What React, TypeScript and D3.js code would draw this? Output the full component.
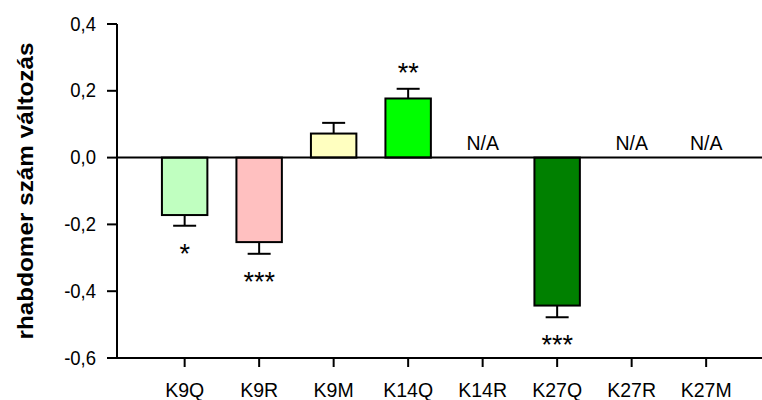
import React from "react";
import * as d3 from "d3";

// Mutant categories, mean change and standard error
const categories = ["K9Q", "K9R", "K9M", "K14Q", "K14R", "K27Q", "K27R", "K27M"];
const means: (number | null)[] = [-0.172, -0.253, 0.072, 0.177, null, -0.443, null, null];
const errors: (number | null)[] = [0.032, 0.035, 0.032, 0.029, null, 0.035, null, null];
const significance: string[] = ["*", "***", "", "**", "", "***", "", ""];
const fills: string[] = ["#C0FFC0", "#FFC0C0", "#FFFFC0", "#00FF00", "none", "#008000", "none", "none"];
const yTicks = [0.4, 0.2, 0.0, -0.2, -0.4, -0.6];
const yLabel = "rhabdomer szám változás";

const W = 762;
const H = 400;
const FONT = "'Liberation Sans', Arial, sans-serif";
const STRETCH = 1.08;

// Text with a slight vertical stretch, anchored at its baseline point
function Label(props: { x: number; y: number; size: number; anchor?: string; children: React.ReactNode }) {
  return (
    <text
      transform={`translate(${props.x},${props.y}) scale(1,${STRETCH})`}
      textAnchor={props.anchor ?? "middle"}
      fontSize={props.size}
      fill="#000"
    >
      {props.children}
    </text>
  );
}

export default function App() {
  const axisX = 117;
  const y = d3.scaleLinear().domain([-0.6, 0.4]).range([358, 24]);
  const x = d3
    .scaleBand<string>()
    .domain(categories)
    .range([147.4, 743.4])
    .paddingInner(0.39)
    .paddingOuter(0.195);
  const fmt = (v: number) => d3.format(".1f")(v).replace(".", ",").replace("−", "-");
  const capHalf = 11.5;
  const starSize = 27;

  return (
    <svg
      width={W}
      height={H}
      style={{ position: "absolute", left: 0, top: 0, background: "#fff" }}
      fontFamily={FONT}
    >
      <rect x={0} y={0} width={W} height={H} fill="#fff" />

      {/* bars with error bars */}
      {categories.map((c, i) => {
        const m = means[i];
        const e = errors[i];
        const cx = x(c)! + x.bandwidth() / 2;
        if (m === null || e === null) {
          return (
            <Label key={c} x={cx} y={y(0) - 8} size={19.5}>
              N/A
            </Label>
          );
        }
        const top = y(Math.max(0, m));
        const bottom = y(Math.min(0, m));
        const tip = m >= 0 ? m + e : m - e;
        const starCenter = m >= 0 ? y(tip) - 22 : y(tip) + 21.5;
        return (
          <g key={c}>
            <line x1={cx} x2={cx} y1={y(m)} y2={y(tip)} stroke="#000" strokeWidth={2} />
            <line x1={cx - capHalf} x2={cx + capHalf} y1={y(tip)} y2={y(tip)} stroke="#000" strokeWidth={2} />
            <rect
              x={x(c)!}
              y={top}
              width={x.bandwidth()}
              height={bottom - top}
              fill={fills[i]}
              stroke="#000"
              strokeWidth={2}
            />
            {significance[i] && (
              <text
                x={cx}
                y={starCenter + 0.577 * starSize}
                textAnchor="middle"
                fontSize={starSize}
                fill="#000"
              >
                {significance[i]}
              </text>
            )}
          </g>
        );
      })}

      {/* zero line */}
      <line x1={axisX} x2={W} y1={y(0)} y2={y(0)} stroke="#000" strokeWidth={2} />

      {/* y axis */}
      <line x1={axisX} x2={axisX} y1={y(0.4)} y2={y(-0.6)} stroke="#000" strokeWidth={2} />
      {yTicks.map((t) => (
        <g key={t}>
          <line x1={axisX - 10} x2={axisX} y1={y(t)} y2={y(t)} stroke="#000" strokeWidth={2} />
          <Label x={96} y={y(t) + 6.6} size={18.5} anchor="end">
            {fmt(t)}
          </Label>
        </g>
      ))}

      {/* x axis */}
      <line x1={axisX} x2={W} y1={y(-0.6)} y2={y(-0.6)} stroke="#000" strokeWidth={2} />
      {categories.map((c) => {
        const cx = x(c)! + x.bandwidth() / 2;
        return (
          <g key={c}>
            <line x1={cx} x2={cx} y1={y(-0.6)} y2={y(-0.6) + 9} stroke="#000" strokeWidth={2} />
            <Label x={cx} y={396.5} size={19.5}>
              {c}
            </Label>
          </g>
        );
      })}

      {/* y axis title */}
      <text
        transform={`translate(33,191) rotate(-90)`}
        textAnchor="middle"
        fontSize={22}
        fontWeight="bold"
        fill="#000"
        textLength={297}
        lengthAdjust="spacingAndGlyphs"
      >
        {yLabel}
      </text>
    </svg>
  );
}
